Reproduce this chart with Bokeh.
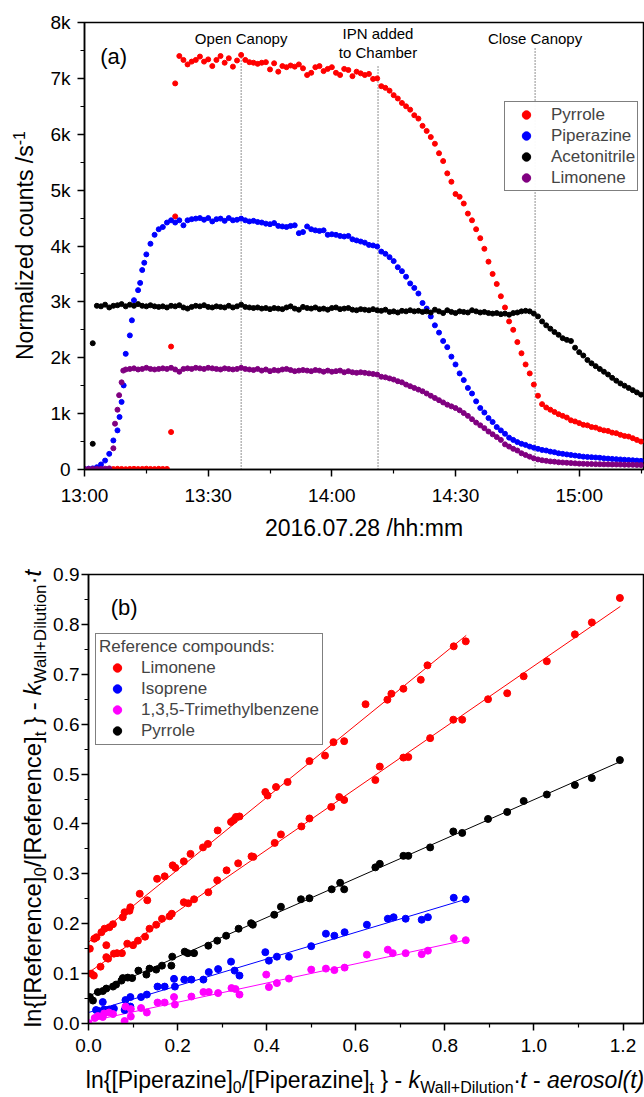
import numpy as np
from bokeh.plotting import figure
from bokeh.models import (Range1d, FixedTicker, PrintfTickFormatter, Label,
                          Legend, LegendItem, Div)
from bokeh.layouts import column, row
from bokeh.embed import file_html
from bokeh.resources import INLINE

FONT = "Liberation Sans"

# ---------------- Panel (a) data: minutes after 13:00 ----------------
minutes = list(range(136))
pyrrole = ([None] * 6 +
           [10, 8, 12, 10, 6, 10, 12, 8, 10, 14, 10, 8, 12, 10, 10] +
           [2200, 6910,
            7400, 7330, 7250, 7300, 7330, 7390, 7300, 7340, 7220, 7330, 7400, 7280, 7360, 7210, 7320, 7420,
            7330, 7290, 7280, 7260, 7280, 7290, 7160, 7270, 7120, 7220, 7200, 7230, 7210, 7250, 7180, 7060,
            7100, 7200, 7220, 7130, 7170, 7200, 7100, 7060, 7170, 7150, 7040, 7120, 7090, 7060, 7080, 6990, 7000,
            6860, 6830, 6780, 6700, 6640, 6560, 6500, 6440, 6340, 6280, 6150, 6060, 5950, 5830, 5660, 5520,
            5300, 5150, 4930, 4880, 4760, 4580, 4460, 4300, 4140, 3950, 3720, 3500, 3320, 3100, 2900, 2650,
            2500, 2280, 2080, 1880, 1720, 1520, 1320, 1170,
            1110, 1070, 1030, 990, 960, 930, 880, 860, 830, 800, 790, 760, 750, 720, 700, 690, 660, 650,
            620, 600, 590, 560, 530, 500])
pyrrole_extra_t = [21, 22]
pyrrole_extra_v = [670, 4530]

piperazine = [10, 15, 20, 40, 90, 160, 280, 520, 700, 1210, 2070, 2400, 3030, 3210, 3570, 3850, 4040,
              4200, 4300, 4340, 4420, 4460,
              4420, 4460, 4370, 4460, 4480, 4490, 4500, 4470, 4500, 4440, 4480, 4490, 4450, 4500, 4460,
              4470, 4490, 4460, 4440, 4450, 4430, 4420, 4400, 4390, 4410, 4360, 4350, 4340, 4360, 4370,
              4230, 4250, 4350, 4300, 4280, 4270, 4280, 4200, 4210, 4200, 4180, 4170, 4180, 4120, 4100,
              4080, 4060, 4020, 4010, 3990,
              3900, 3860, 3800, 3730, 3620, 3550, 3450, 3330, 3250, 3150, 2980, 2880, 2740, 2580, 2450,
              2300, 2190, 2020, 1880, 1720, 1600, 1460, 1360, 1220, 1100, 1020, 920, 850, 760, 700, 640,
              570, 530, 490, 460, 440, 410, 390, 370, 350, 340, 320, 310, 290, 280, 270, 260, 250, 240,
              230, 225, 220, 215, 210, 200, 195, 190, 185, 180, 175, 170, 165, 160, 155]
piperazine_extra_t = [8.5, 9.5, 11.5, 13.5, 14.5]
piperazine_extra_v = [940, 1505, 2670, 3340, 3700]

acetonitrile = ([None, None, 2260] +
                [2930, 2920, 2950, 2900, 2930, 2940, 2960, 2920, 2950, 2930,
                 2960, 2930, 2920, 2940, 2920, 2910, 2920, 2900, 2930, 2920,
                 2940, 2900, 2880, 2910, 2930, 2920, 2940, 2910, 2900, 2920,
                 2910, 2900, 2930, 2900, 2920, 2950] +
                [2910, 2900, 2890, 2900, 2880, 2890, 2870, 2890, 2880, 2870,
                 2900, 2920, 2880, 2860, 2910, 2890, 2880, 2900, 2870, 2880,
                 2860, 2890, 2900, 2870, 2880, 2890, 2860, 2850, 2870, 2860,
                 2850, 2870, 2850, 2840, 2860, 2820, 2830, 2810, 2840, 2830,
                 2850, 2830, 2840, 2820, 2830, 2810, 2860, 2830, 2800, 2850,
                 2820, 2800, 2830, 2820, 2810, 2850, 2830, 2810, 2820, 2800,
                 2790, 2800, 2780, 2790, 2770, 2800, 2810, 2830, 2840, 2830] +
                [2790, 2740, 2650, 2580, 2520, 2460, 2410, 2350, 2320, 2300,
                 2180, 2100, 2040, 1960, 1900, 1850, 1800, 1750, 1700, 1640,
                 1590, 1540, 1500, 1460, 1420, 1380, 1340])
acetonitrile_extra_t = [2]
acetonitrile_extra_v = [460]

limonene = ([10, 10, 10, 10, 10, 15, 20, 380, 1070, 1560] +
            [1790, 1800, 1810, 1790, 1800, 1820, 1800, 1790, 1800, 1810,
             1800, 1820, 1790, 1750, 1800, 1810, 1800, 1820, 1810, 1800,
             1820, 1810, 1800, 1790, 1810, 1800, 1790, 1800, 1820, 1800,
             1790, 1780, 1800, 1770, 1790, 1760, 1780, 1770, 1790, 1800,
             1780, 1760, 1770, 1780, 1770, 1760, 1780, 1770, 1750, 1770,
             1750, 1760, 1770, 1740, 1760, 1740, 1730, 1740, 1730, 1720,
             1710, 1700] +
            [1660, 1650, 1630, 1610, 1580, 1560, 1520, 1490, 1460, 1430,
             1400, 1360, 1320, 1280, 1240, 1200, 1160, 1130, 1100, 1060,
             1010, 960, 900, 840, 790, 740, 680, 630, 580, 530,
             450, 410, 370, 340, 290, 260, 230, 200, 180, 165,
             155, 145, 140, 130, 125, 120, 115, 110, 105] +
            [102, 100, 98, 96, 95, 93, 92, 90, 90, 88, 86, 85, 84, 82, 80])
limonene_extra_t = [7.4, 8.4, 9.4]
limonene_extra_v = [820, 1330, 1770]

event_times = [38.0, 71.2, 109.3]
event_labels = [["Open Canopy"], ["IPN added", "to Chamber"], ["Close Canopy"]]

time_ticks = [0, 30, 60, 90, 120]
time_tick_labels = ["13:00", "13:30", "14:00", "14:30", "15:00"]
time_minor = [15, 45, 75, 105, 135]
count_ticks = [0, 1000, 2000, 3000, 4000, 5000, 6000, 7000, 8000]
count_tick_labels = ["0", "1k", "2k", "3k", "4k", "5k", "6k", "7k", "8k"]
count_minor = [500, 1500, 2500, 3500, 4500, 5500, 6500, 7500]

# ---------------- Panel (b) data ----------------
lim1_x = [0.003, 0.013, 0.018, 0.029, 0.036, 0.040, 0.047, 0.055, 0.077, 0.081,
          0.092, 0.094, 0.115, 0.132, 0.154, 0.171, 0.189, 0.195, 0.214, 0.229,
          0.257, 0.268, 0.290, 0.320, 0.326, 0.331, 0.339, 0.397, 0.402, 0.421,
          0.447, 0.496, 0.531, 0.550, 0.574, 0.622, 0.671, 0.680, 0.707, 0.746,
          0.761, 0.820, 0.847]
lim1_y = [0.150, 0.170, 0.173, 0.183, 0.190, 0.157, 0.193, 0.199, 0.213, 0.223,
          0.226, 0.233, 0.260, 0.247, 0.290, 0.295, 0.317, 0.312, 0.325, 0.340,
          0.353, 0.360, 0.387, 0.404, 0.408, 0.414, 0.415, 0.464, 0.457, 0.474,
          0.484, 0.526, 0.537, 0.564, 0.566, 0.640, 0.649, 0.661, 0.671, 0.689,
          0.718, 0.756, 0.766]
lim2_x = [0.006, 0.012, 0.027, 0.040, 0.044, 0.057, 0.064, 0.075, 0.087, 0.100,
          0.111, 0.127, 0.137, 0.152, 0.165, 0.182, 0.187, 0.214, 0.224, 0.237,
          0.269, 0.289, 0.310, 0.336, 0.366, 0.370, 0.418, 0.432, 0.478, 0.496,
          0.545, 0.563, 0.574, 0.644, 0.654, 0.707, 0.718, 0.767, 0.819, 0.839,
          0.897, 0.940, 0.977, 1.029, 1.092, 1.130, 1.193]
lim2_y = [0.100, 0.096, 0.114, 0.133, 0.130, 0.140, 0.141, 0.141, 0.160, 0.157,
          0.166, 0.174, 0.190, 0.198, 0.210, 0.215, 0.220, 0.243, 0.241, 0.249,
          0.263, 0.287, 0.307, 0.321, 0.335, 0.334, 0.362, 0.379, 0.395, 0.411,
          0.434, 0.454, 0.448, 0.488, 0.515, 0.533, 0.534, 0.572, 0.609, 0.609,
          0.650, 0.662, 0.696, 0.726, 0.780, 0.804, 0.853]
pyr_x = [0.003, 0.010, 0.021, 0.032, 0.040, 0.055, 0.062, 0.074, 0.077, 0.088,
         0.098, 0.112, 0.130, 0.137, 0.152, 0.165, 0.186, 0.188, 0.216, 0.223,
         0.237, 0.269, 0.289, 0.309, 0.337, 0.365, 0.369, 0.417, 0.432, 0.477,
         0.496, 0.546, 0.565, 0.574, 0.644, 0.654, 0.707, 0.718, 0.767, 0.819,
         0.839, 0.897, 0.940, 0.977, 1.029, 1.092, 1.130, 1.193]
pyr_y = [0.053, 0.046, 0.063, 0.065, 0.070, 0.074, 0.078, 0.086, 0.091, 0.092,
         0.091, 0.106, 0.098, 0.110, 0.108, 0.116, 0.116, 0.134, 0.144, 0.141,
         0.141, 0.156, 0.166, 0.176, 0.190, 0.201, 0.198, 0.218, 0.234, 0.249,
         0.251, 0.269, 0.282, 0.269, 0.313, 0.320, 0.336, 0.336, 0.353, 0.385,
         0.382, 0.410, 0.424, 0.446, 0.459, 0.478, 0.492, 0.528]
iso_x = [0.017, 0.023, 0.032, 0.035, 0.046, 0.057, 0.081, 0.083, 0.094, 0.094,
         0.118, 0.131, 0.155, 0.171, 0.192, 0.194, 0.215, 0.231, 0.258, 0.270,
         0.291, 0.320, 0.328, 0.339, 0.397, 0.405, 0.423, 0.450, 0.500, 0.533,
         0.552, 0.575, 0.625, 0.672, 0.685, 0.712, 0.748, 0.762, 0.820, 0.847]
iso_y = [0.027, 0.025, 0.043, 0.028, 0.028, 0.030, 0.027, 0.047, 0.053, 0.034,
         0.053, 0.058, 0.074, 0.074, 0.0895, 0.074, 0.088, 0.088, 0.088, 0.103,
         0.109, 0.124, 0.106, 0.096, 0.143, 0.126, 0.134, 0.134, 0.155, 0.180,
         0.176, 0.183, 0.198, 0.210, 0.213, 0.210, 0.208, 0.213, 0.252, 0.249]
tmb_x = [0.000, 0.014, 0.021, 0.032, 0.035, 0.046, 0.055, 0.081, 0.083, 0.095,
         0.095, 0.118, 0.131, 0.155, 0.171, 0.192, 0.194, 0.231, 0.258, 0.270,
         0.291, 0.321, 0.330, 0.339, 0.399, 0.405, 0.423, 0.450, 0.500, 0.533,
         0.552, 0.575, 0.625, 0.672, 0.683, 0.712, 0.748, 0.762, 0.820, 0.847]
tmb_y = [0.001, 0.011, 0.015, 0.013, 0.020, 0.022, 0.019, 0.005, 0.034, 0.029,
         0.014, 0.031, 0.022, 0.042, 0.042, 0.053, 0.038, 0.054, 0.063, 0.063,
         0.061, 0.071, 0.069, 0.058, 0.098, 0.073, 0.081, 0.090, 0.108, 0.110,
         0.107, 0.112, 0.138, 0.148, 0.141, 0.141, 0.139, 0.146, 0.171, 0.167]
# fitted lines: upper limonene, lower limonene, pyrrole, isoprene, TMB
fit_x0 = [0.0, 0.0, 0.0, 0.0, 0.0]
fit_x1 = [0.848, 1.194, 1.194, 0.851, 0.851]
fit_y0 = [0.163, 0.102, 0.055, 0.022, 0.004]
fit_y1 = [0.778, 0.836, 0.525, 0.250, 0.168]

b_x_ticks = [0.0, 0.2, 0.4, 0.6, 0.8, 1.0, 1.2]
b_x_minor = [0.1, 0.3, 0.5, 0.7, 0.9, 1.1]
b_y_ticks = [0.0, 0.1, 0.2, 0.3, 0.4, 0.5, 0.6, 0.7, 0.8, 0.9]
b_y_minor = [0.05, 0.15, 0.25, 0.35, 0.45, 0.55, 0.65, 0.75, 0.85]

RED, BLUE, BLACK, PURPLE, MAGENTA = "#ff0000", "#0000ff", "#000000", "#800080", "#ff00ff"

# ---------------- helpers ----------------
ARIAL = {' ': 278, '\u00a0': 278, '!': 278, '(': 333, ')': 333, '+': 584, ',': 278, '-': 333,
         '.': 278, '/': 278, ':': 278, '[': 278, ']': 278, '{': 334, '}': 334, '\u00b7': 278,
         'A': 667, 'B': 667, 'C': 722, 'D': 722, 'E': 667, 'F': 611, 'G': 778, 'H': 722, 'I': 278,
         'J': 500, 'K': 667, 'L': 556, 'M': 833, 'N': 722, 'O': 778, 'P': 667, 'Q': 778, 'R': 722,
         'S': 667, 'T': 611, 'U': 722, 'V': 667, 'W': 944, 'X': 667, 'Y': 667, 'Z': 611,
         'a': 556, 'b': 556, 'c': 500, 'd': 556, 'e': 556, 'f': 278, 'g': 556, 'h': 556, 'i': 222,
         'j': 222, 'k': 500, 'l': 222, 'm': 833, 'n': 556, 'o': 556, 'p': 556, 'q': 556, 'r': 333,
         's': 500, 't': 278, 'u': 556, 'v': 500, 'w': 722, 'x': 500, 'y': 500, 'z': 500}
MID = 0.33  # middle of the text box above the baseline, in em


def tw(s, size):
    return sum(ARIAL.get(c, 556) for c in s) * size / 1000.0


def strip(width, height):
    f = figure(width=width, height=height, output_backend="svg", toolbar_location=None,
               x_range=Range1d(0, width), y_range=Range1d(0, height),
               x_axis_type=None, y_axis_type=None,
               min_border_left=0, min_border_right=0, min_border_top=0, min_border_bottom=0)
    f.outline_line_color = None
    f.background_fill_color = "white"
    f.border_fill_color = "white"
    f.grid.visible = False
    return f


def rich_h(f, parts, center, base, origin):
    """Horizontal text runs with subscripts; center/base in page pixels."""
    left, bottom = origin
    parts = [(t.replace(" ", "\u00a0"), s, st, sh) for t, s, st, sh in parts]
    total = sum(tw(t, s) for t, s, _, _ in parts)
    pos = 0.0
    for text, size, style, shift in parts:
        w = tw(text, size)
        px = center - total / 2 + pos + w / 2
        py = base - shift - MID * size
        f.add_layout(Label(x=px - left, y=bottom - py, text=text,
                           text_font=FONT, text_font_size=f"{size}px", text_font_style=style,
                           text_align="center", text_baseline="middle", text_color="black"))
        pos += w


def vtitle(width, height, parts, size, center_local, baseline_local):
    """Vertical (bottom-to-top) title with sub/superscripts as real HTML text."""
    lh = 28
    ascent, descent = 0.905, 0.212
    base_in_line = (lh - (ascent + descent) * size) / 2 + ascent * size
    left = baseline_local - base_in_line
    span_w = 2 * center_local
    html = ""
    for text, sz, st, shift in parts:
        css = f"font-size:{sz}px;font-style:{st};"
        if shift:
            css += f"position:relative;top:{-shift}px;line-height:0;"
        html += f'<span style="{css}">{text}</span>'
    outer = (f'<div style="position:relative;width:{width}px;height:{height}px;">'
             f'<div style="position:absolute;left:{left:.1f}px;top:{span_w:.1f}px;width:{span_w:.1f}px;'
             f'height:{lh}px;line-height:{lh}px;transform-origin:0 0;transform:rotate(-90deg);'
             f"text-align:center;white-space:nowrap;font-family:'{FONT}';font-size:{size}px;"
             f'color:#000;">{html}</div></div>')
    return Div(text=outer, width=width, height=height, margin=0)


def style(p):
    p.xgrid.visible = False
    p.ygrid.visible = False
    p.outline_line_color = "black"
    p.outline_line_width = 1.5
    p.background_fill_color = "white"
    p.border_fill_color = "white"
    for ax in (p.xaxis[0], p.yaxis[0]):
        ax.axis_line_width = 1.5
        ax.major_tick_line_width = 1.5
        ax.minor_tick_line_width = 1.2
        ax.major_tick_out = 7
        ax.major_tick_in = 0
        ax.minor_tick_out = 4
        ax.minor_tick_in = 0
        ax.major_label_text_font = FONT
        ax.major_label_text_font_size = "19px"
        ax.major_label_text_color = "black"
        ax.axis_label_text_font = FONT
        ax.axis_label_text_font_style = "normal"
        ax.axis_label_text_color = "black"


def arr(v):
    return np.array([np.nan if a is None else a for a in v], dtype=float)


def style_legend(lg, pad, gw):
    lg.label_text_font = FONT
    lg.label_text_font_size = "17px"
    lg.padding = pad
    lg.margin = 0
    lg.spacing = 0
    lg.glyph_width = gw
    lg.glyph_height = 21
    lg.label_height = 21
    lg.label_standoff = 6
    lg.border_line_color = "black"
    lg.border_line_width = 1

# ---------------- Panel (a) ----------------
pa = figure(width=602, height=553, output_backend="svg", toolbar_location=None,
            x_range=Range1d(0, 135.6), y_range=Range1d(0, 8000),
            min_border_left=42, min_border_right=1, min_border_top=22, min_border_bottom=84)
style(pa)
pa.xaxis.ticker = FixedTicker(ticks=time_ticks, minor_ticks=time_minor)
pa.xaxis.major_label_overrides = dict(zip(time_ticks, time_tick_labels))
pa.yaxis.ticker = FixedTicker(ticks=count_ticks, minor_ticks=count_minor)
pa.yaxis.major_label_overrides = dict(zip(count_ticks, count_tick_labels))
pa.xaxis.axis_label = "2016.07.28 /hh:mm"
pa.xaxis.axis_label_text_font_size = "23px"
pa.xaxis.axis_label_standoff = 6
pa.xaxis.major_label_standoff = 8
pa.yaxis.major_label_standoff = 7

ev_top = [7450, 7240, 7570]
pa.segment(x0=event_times, x1=event_times, y0=[0, 0, 0], y1=ev_top,
           line_color="#222222", line_width=1, line_dash="1 2")
ev_label_y = [[7720], [7800, 7460], [7720]]
for t, labs, ys in zip(event_times, event_labels, ev_label_y):
    for lab, yy in zip(labs, ys):
        pa.add_layout(Label(x=t, y=yy, text=lab, text_align="center", text_baseline="middle",
                            text_font=FONT, text_font_size="15px", text_color="black"))

t_arr = np.array(minutes, dtype=float)
MS = 5
r_pyr = pa.scatter(t_arr, arr(pyrrole), size=MS, color=RED)
pa.scatter(pyrrole_extra_t, pyrrole_extra_v, size=MS, color=RED)
r_pip = pa.scatter(t_arr, arr(piperazine), size=MS, color=BLUE)
pa.scatter(piperazine_extra_t, piperazine_extra_v, size=MS, color=BLUE)
r_ace = pa.scatter(t_arr, arr(acetonitrile), size=MS, color=BLACK)
pa.scatter(acetonitrile_extra_t, acetonitrile_extra_v, size=MS, color=BLACK)
r_lim = pa.scatter(t_arr, arr(limonene), size=MS, color=PURPLE)
pa.scatter(limonene_extra_t, limonene_extra_v, size=MS, color=PURPLE)

pa.add_layout(Label(x=3.8, y=7400, text="(a)", text_baseline="middle", text_font=FONT,
                    text_font_size="22px", text_color="black"))

leg_a = Legend(items=[LegendItem(label="Pyrrole", renderers=[r_pyr]),
                      LegendItem(label="Piperazine", renderers=[r_pip]),
                      LegendItem(label="Acetonitrile", renderers=[r_ace]),
                      LegendItem(label="Limonene", renderers=[r_lim])],
               location=(420, 278))
style_legend(leg_a, 2, 38)
pa.add_layout(leg_a)

ya = vtitle(42, 553, [("Normalized counts /s", 23, "normal", 0), ("-1", 16, "normal", 8)],
            size=23, center_local=245.5, baseline_local=33)

# ---------------- Panel (b) ----------------
pb = figure(width=594, height=510, output_backend="svg", toolbar_location=None,
            x_range=Range1d(0, 1.246), y_range=Range1d(0, 0.9),
            min_border_left=36, min_border_right=1, min_border_top=21, min_border_bottom=40)
style(pb)
pb.xaxis.ticker = FixedTicker(ticks=b_x_ticks, minor_ticks=b_x_minor)
pb.yaxis.ticker = FixedTicker(ticks=b_y_ticks, minor_ticks=b_y_minor)
pb.xaxis.formatter = PrintfTickFormatter(format="%.1f")
pb.yaxis.formatter = PrintfTickFormatter(format="%.1f")
pb.xaxis.major_label_standoff = 8
pb.yaxis.major_label_standoff = 2

fit_colors = [RED, RED, BLACK, BLUE, MAGENTA]
pb.segment(x0=fit_x0, x1=fit_x1, y0=fit_y0, y1=fit_y1, line_color=fit_colors, line_width=1)
BS = 7
r_l1 = pb.scatter(lim1_x, lim1_y, size=BS, color=RED)
pb.scatter(lim2_x, lim2_y, size=BS, color=RED)
r_py = pb.scatter(pyr_x, pyr_y, size=BS, color=BLACK)
r_is = pb.scatter(iso_x, iso_y, size=BS, color=BLUE)
r_tm = pb.scatter(tmb_x, tmb_y, size=BS, color=MAGENTA)

pb.add_layout(Label(x=0.05, y=0.834, text="(b)", text_baseline="middle", text_font=FONT,
                    text_font_size="22px", text_color="black"))

leg_b = Legend(items=[LegendItem(label="Limonene", renderers=[r_l1]),
                      LegendItem(label="Isoprene", renderers=[r_is]),
                      LegendItem(label="1,3,5-Trimethylbenzene", renderers=[r_tm]),
                      LegendItem(label="Pyrrole", renderers=[r_py])],
               location=(7, 278), title="Reference compounds:")
style_legend(leg_b, 3, 36)
leg_b.title_text_font = FONT
leg_b.title_text_font_size = "17px"
leg_b.title_text_font_style = "normal"
leg_b.title_standoff = 0
pb.add_layout(leg_b)

S, s, sub = 24, 17, -5
yb = vtitle(50, 510, [("ln{[Reference]", S, "normal", 0), ("0", s, "normal", sub),
                      ("/[Reference]", S, "normal", 0), ("t", s, "normal", sub),
                      ("&nbsp;} - ", S, "normal", 0), ("k", S, "italic", 0),
                      ("Wall+Dilution", s, "normal", sub), ("&middot;", S, "normal", 0),
                      ("t", S, "italic", 0)],
            size=S, center_local=245.5, baseline_local=41)

xb = strip(644, 34)
S2, s2 = 23, 16
rich_h(xb, [("ln{[Piperazine]", S2, "normal", 0), ("0", s2, "normal", sub),
            ("/[Piperazine]", S2, "normal", 0), ("t", s2, "normal", sub),
            (" } - ", S2, "normal", 0), ("k", S2, "italic", 0),
            ("Wall+Dilution", s2, "normal", sub), ("\u00b7", S2, "normal", 0), ("t", S2, "italic", 0),
            (" - ", S2, "normal", 0), ("aerosol(t)", S2, "italic", 0)],
       center=364.5, base=1087, origin=(0, 1097))

layout = column(row(ya, pa, spacing=0), row(yb, pb, spacing=0), xb, spacing=0)
open("out.html", "w").write(file_html(layout, INLINE))
